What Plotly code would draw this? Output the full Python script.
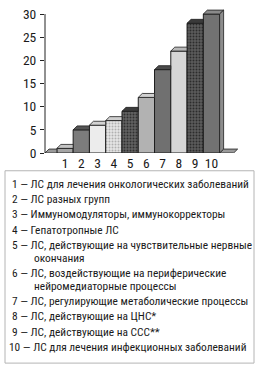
import plotly.graph_objects as go

# ---------------- data ----------------
categories = ["1", "2", "3", "4", "5", "6", "7", "8", "9", "10"]
values = [1, 5, 6, 7, 9, 12, 18, 22, 28, 30]
y_ticks = [0, 5, 10, 15, 20, 25, 30]
legend_items = [
    "1 — ЛС для лечения онкологических заболеваний",
    "2 — ЛС разных групп",
    "3 — Иммуномодуляторы, иммунокорректоры",
    "4 — Гепатотропные ЛС",
    "5 — ЛС, действующие на чувствительные нервные|окончания",
    "6 — ЛС, воздействующие на периферические|нейромедиаторные процессы",
    "7 — ЛС, регулирующие метаболические процессы",
    "8 — ЛС, действующие на ЦНС*",
    "9 — ЛС, действующие на ССС**",
    "10 — ЛС для лечения инфекционных заболеваний",
]

# ---------------- styles ----------------
front_colors = ["#a4a4a4", "#7c7c7c", "#ececec", "#e6e6e6", "#626262",
                "#b2b2b2", "#707070", "#d6d6d6", "#5c5c5c", "#727272"]
top_colors = ["#c4c4c4", "#545454", "#d2d2d2", "#cfcfcf", "#3c3c3c",
              "#d0d0d0", "#4a4a4a", "#b8b8b8", "#3a3a3a", "#8a8a8a"]
patterns = ["", "", "", ".", ".", "", "", "", ".", ""]
pattern_fg = ["#888", "#888", "#888", "#b0b0b0", "#303030",
              "#888", "#888", "#888", "#2c2c2c", "#888"]
side_color = "#8c8c8c"
floor_color = "#9a9a9a"
FONT = "Roboto Condensed, DejaVu Sans Condensed, sans-serif"

W, H = 260, 370
ML, MR, MT, MB = 45, 22, 6, 217
x_range = [-1.23, 10.63]
y_range = [0, 31.3]
plot_w = W - ML - MR
plot_h = H - MT - MB
px_x = plot_w / (x_range[1] - x_range[0])
px_y = plot_h / (y_range[1] - y_range[0])
dx = 4 / px_x       # 3D depth in x units
dy = 4 / px_y       # 3D depth in y units
bw = 1.0            # bar width

xs = list(range(len(values)))

fig = go.Figure()

# front faces, one trace per bar so each gets its own fill texture
for i, (x, v) in enumerate(zip(xs, values)):
    marker = dict(color=front_colors[i], line=dict(color="#1e1e1e", width=1))
    if patterns[i]:
        marker["pattern"] = dict(shape=patterns[i], fgcolor=pattern_fg[i],
                                 bgcolor=front_colors[i], fgopacity=1,
                                 size=3, solidity=0.35, fillmode="replace")
    fig.add_trace(go.Bar(x=[x], y=[v], width=bw, marker=marker,
                         hoverinfo="skip", showlegend=False))


def poly(px, py, color, lw=0.8):
    fig.add_trace(go.Scatter(
        x=px + [px[0]], y=py + [py[0]], mode="lines", fill="toself",
        fillcolor=color, line=dict(color="#1e1e1e", width=lw),
        hoverinfo="skip", showlegend=False,
    ))


# floor pieces (left of first bar, right of last bar)
L0 = xs[0] - bw / 2
poly([x_range[0], L0, L0, x_range[0] + dx], [0, 0, dy, dy], floor_color)
Rn = xs[-1] + bw / 2
xe = x_range[1] - dx - 0.02
poly([Rn, xe, xe + dx, Rn + dx], [0, 0, dy, dy], floor_color)

# top and side faces
for i, (x, v) in enumerate(zip(xs, values)):
    L, R = x - bw / 2, x + bw / 2
    nxt = values[i + 1] if i + 1 < len(values) else 0
    if nxt > v:
        poly([L, R, R, L + dx], [v, v, v + dy, v + dy], top_colors[i])
    else:
        poly([L, R, R + dx, L + dx], [v, v, v + dy, v + dy], top_colors[i])
        lo = nxt
        poly([R, R + dx, R + dx, R], [lo, lo + dy, v + dy, v], side_color)

fig.update_layout(
    width=W, height=H,
    margin=dict(l=ML, r=MR, t=MT, b=MB),
    paper_bgcolor="white", plot_bgcolor="white",
    font=dict(family=FONT, size=12, color="#1a1a1a"),
    showlegend=False, barmode="overlay",
    xaxis=dict(range=x_range, tickvals=xs, ticktext=categories,
               showgrid=False, zeroline=False, showline=False,
               ticks="", tickfont=dict(size=13.5), ticklabelstandoff=0),
    yaxis=dict(range=y_range, tickvals=y_ticks, showgrid=False,
               zeroline=False, showline=False, ticks="outside",
               ticklen=4, tickcolor="#222", tickfont=dict(size=13.5),
               ticklabelstandoff=1),
)

# y axis line from 0 to 30
fig.add_shape(type="line", xref="paper", yref="y", x0=0, x1=0,
              y0=y_ticks[0], y1=y_ticks[-1], line=dict(color="#222", width=1))


# legend box
def py_to_paper(ypx):
    return (H - MB - ypx) / plot_h


def px_to_paper(xpx):
    return (xpx - ML) / plot_w


fig.add_shape(type="rect", xref="paper", yref="paper",
              x0=px_to_paper(5), x1=px_to_paper(254),
              y0=py_to_paper(366), y1=py_to_paper(171),
              line=dict(color="#b4b4b4", width=1))

y = 184.0
item_gap, cont_gap = 15.67, 12.5
for k, item in enumerate(legend_items):
    parts = item.split("|")
    for j, part in enumerate(parts):
        if j == 0:
            xpx = 7 if part.startswith("10") else 10
        else:
            xpx = 32
            y += cont_gap
        fig.add_annotation(text=part, xref="paper", yref="paper",
                           x=px_to_paper(xpx), y=py_to_paper(y),
                           xanchor="left", yanchor="middle", showarrow=False,
                           font=dict(size=11.4, family=FONT, color="#1a1a1a"))
    y += item_gap

fig.write_html("out.html")
